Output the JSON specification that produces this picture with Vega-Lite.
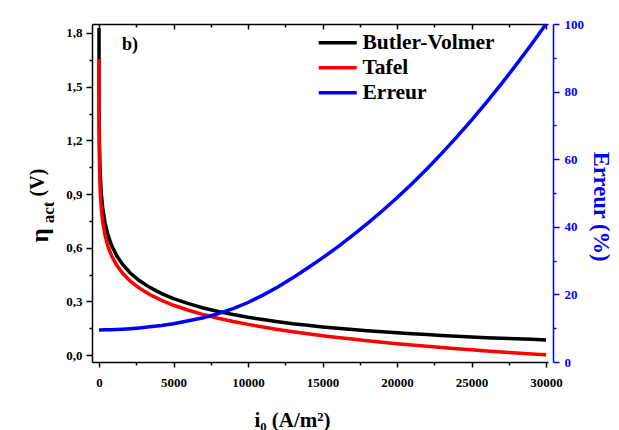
{
  "$schema": "https://vega.github.io/schema/vega-lite/v6.json",
  "width": 456,
  "height": 338,
  "autosize": {"type": "none"},
  "padding": {"left": 92, "top": 24, "right": 71, "bottom": 68},
  "background": "white",
  "datasets": {
    "curves": [
      {"i": 0.7, "s": "Butler-Volmer", "v": 1.828}, {"i": 5, "s": "Butler-Volmer", "v": 1.492}, {"i": 15, "s": "Butler-Volmer", "v": 1.304}, {"i": 30, "s": "Butler-Volmer", "v": 1.185}, {"i": 60, "s": "Butler-Volmer", "v": 1.066}, {"i": 100, "s": "Butler-Volmer", "v": 0.979}, {"i": 160, "s": "Butler-Volmer", "v": 0.898}, {"i": 250, "s": "Butler-Volmer", "v": 0.822}, {"i": 400, "s": "Butler-Volmer", "v": 0.741}, {"i": 600, "s": "Butler-Volmer", "v": 0.672}, {"i": 850, "s": "Butler-Volmer", "v": 0.612}, {"i": 1200, "s": "Butler-Volmer", "v": 0.554}, {"i": 1600, "s": "Butler-Volmer", "v": 0.505}, {"i": 2100, "s": "Butler-Volmer", "v": 0.459}, {"i": 2700, "s": "Butler-Volmer", "v": 0.417}, {"i": 3400, "s": "Butler-Volmer", "v": 0.379}, {"i": 4200, "s": "Butler-Volmer", "v": 0.344}, {"i": 5000, "s": "Butler-Volmer", "v": 0.316}, {"i": 6000, "s": "Butler-Volmer", "v": 0.288}, {"i": 7000, "s": "Butler-Volmer", "v": 0.264}, {"i": 8000, "s": "Butler-Volmer", "v": 0.244}, {"i": 9000, "s": "Butler-Volmer", "v": 0.227}, {"i": 10000, "s": "Butler-Volmer", "v": 0.212}, {"i": 11000, "s": "Butler-Volmer", "v": 0.199}, {"i": 12000, "s": "Butler-Volmer", "v": 0.187}, {"i": 13000, "s": "Butler-Volmer", "v": 0.176}, {"i": 14000, "s": "Butler-Volmer", "v": 0.167}, {"i": 15000, "s": "Butler-Volmer", "v": 0.158}, {"i": 16000, "s": "Butler-Volmer", "v": 0.150}, {"i": 17000, "s": "Butler-Volmer", "v": 0.143}, {"i": 18000, "s": "Butler-Volmer", "v": 0.137}, {"i": 19000, "s": "Butler-Volmer", "v": 0.131}, {"i": 20000, "s": "Butler-Volmer", "v": 0.125}, {"i": 21000, "s": "Butler-Volmer", "v": 0.120}, {"i": 22000, "s": "Butler-Volmer", "v": 0.115}, {"i": 23000, "s": "Butler-Volmer", "v": 0.110}, {"i": 24000, "s": "Butler-Volmer", "v": 0.106}, {"i": 25000, "s": "Butler-Volmer", "v": 0.102}, {"i": 26000, "s": "Butler-Volmer", "v": 0.098}, {"i": 27000, "s": "Butler-Volmer", "v": 0.095}, {"i": 28000, "s": "Butler-Volmer", "v": 0.092}, {"i": 29000, "s": "Butler-Volmer", "v": 0.0885}, {"i": 30000, "s": "Butler-Volmer", "v": 0.085},
      {"i": 0.7, "s": "Tafel", "v": 1.655}, {"i": 5, "s": "Tafel", "v": 1.350}, {"i": 15, "s": "Tafel", "v": 1.180}, {"i": 30, "s": "Tafel", "v": 1.072}, {"i": 60, "s": "Tafel", "v": 0.965}, {"i": 100, "s": "Tafel", "v": 0.886}, {"i": 160, "s": "Tafel", "v": 0.813}, {"i": 250, "s": "Tafel", "v": 0.744}, {"i": 400, "s": "Tafel", "v": 0.671}, {"i": 600, "s": "Tafel", "v": 0.608}, {"i": 850, "s": "Tafel", "v": 0.554}, {"i": 1200, "s": "Tafel", "v": 0.501}, {"i": 1600, "s": "Tafel", "v": 0.456}, {"i": 2100, "s": "Tafel", "v": 0.414}, {"i": 2700, "s": "Tafel", "v": 0.375}, {"i": 3400, "s": "Tafel", "v": 0.339}, {"i": 4200, "s": "Tafel", "v": 0.306}, {"i": 5000, "s": "Tafel", "v": 0.279}, {"i": 6000, "s": "Tafel", "v": 0.251}, {"i": 7000, "s": "Tafel", "v": 0.227}, {"i": 8000, "s": "Tafel", "v": 0.206}, {"i": 9000, "s": "Tafel", "v": 0.188}, {"i": 10000, "s": "Tafel", "v": 0.172}, {"i": 11000, "s": "Tafel", "v": 0.157}, {"i": 12000, "s": "Tafel", "v": 0.144}, {"i": 13000, "s": "Tafel", "v": 0.131}, {"i": 14000, "s": "Tafel", "v": 0.120}, {"i": 15000, "s": "Tafel", "v": 0.109}, {"i": 16000, "s": "Tafel", "v": 0.099}, {"i": 17000, "s": "Tafel", "v": 0.090}, {"i": 18000, "s": "Tafel", "v": 0.081}, {"i": 19000, "s": "Tafel", "v": 0.072}, {"i": 20000, "s": "Tafel", "v": 0.064}, {"i": 21000, "s": "Tafel", "v": 0.057}, {"i": 22000, "s": "Tafel", "v": 0.050}, {"i": 23000, "s": "Tafel", "v": 0.043}, {"i": 24000, "s": "Tafel", "v": 0.036}, {"i": 25000, "s": "Tafel", "v": 0.030}, {"i": 26000, "s": "Tafel", "v": 0.024}, {"i": 27000, "s": "Tafel", "v": 0.018}, {"i": 28000, "s": "Tafel", "v": 0.012}, {"i": 29000, "s": "Tafel", "v": 0.007}, {"i": 30000, "s": "Tafel", "v": 0.002},
      {"i": 0.7, "s": "Erreur", "v": 9.5}, {"i": 400, "s": "Erreur", "v": 9.51}, {"i": 850, "s": "Erreur", "v": 9.55}, {"i": 1200, "s": "Erreur", "v": 9.62}, {"i": 1600, "s": "Erreur", "v": 9.72}, {"i": 2100, "s": "Erreur", "v": 9.86}, {"i": 2700, "s": "Erreur", "v": 10.08}, {"i": 3400, "s": "Erreur", "v": 10.4}, {"i": 4200, "s": "Erreur", "v": 10.8}, {"i": 5000, "s": "Erreur", "v": 11.3}, {"i": 6000, "s": "Erreur", "v": 12.2}, {"i": 7000, "s": "Erreur", "v": 13.1}, {"i": 8000, "s": "Erreur", "v": 14.3}, {"i": 9000, "s": "Erreur", "v": 15.8}, {"i": 10000, "s": "Erreur", "v": 17.6}, {"i": 11000, "s": "Erreur", "v": 19.8}, {"i": 12000, "s": "Erreur", "v": 22.2}, {"i": 13000, "s": "Erreur", "v": 24.9}, {"i": 14000, "s": "Erreur", "v": 27.8}, {"i": 15000, "s": "Erreur", "v": 30.8}, {"i": 16000, "s": "Erreur", "v": 34.0}, {"i": 17000, "s": "Erreur", "v": 37.4}, {"i": 18000, "s": "Erreur", "v": 40.94}, {"i": 19000, "s": "Erreur", "v": 44.66}, {"i": 20000, "s": "Erreur", "v": 48.6}, {"i": 21000, "s": "Erreur", "v": 52.75}, {"i": 22000, "s": "Erreur", "v": 57.12}, {"i": 23000, "s": "Erreur", "v": 61.72}, {"i": 24000, "s": "Erreur", "v": 66.52}, {"i": 25000, "s": "Erreur", "v": 71.55}, {"i": 26000, "s": "Erreur", "v": 76.8}, {"i": 27000, "s": "Erreur", "v": 82.26}, {"i": 28000, "s": "Erreur", "v": 87.96}, {"i": 29000, "s": "Erreur", "v": 93.86}, {"i": 30000, "s": "Erreur", "v": 100}
    ]
  },
  "data": {"name": "curves"},
  "config": {
    "view": {"stroke": null},
    "font": "Liberation Serif",
    "axis": {
      "labelFont": "Liberation Serif", "labelFontWeight": "bold", "labelFontSize": 13, "labelColor": "black",
      "titleFont": "Liberation Serif", "titleFontWeight": "bold", "titleColor": "black",
      "domainColor": "black", "tickColor": "black", "domainWidth": 1.5, "tickWidth": 1.5,
      "grid": false, "labelOverlap": false
    },
    "legend": {
      "labelFont": "Liberation Serif", "labelFontWeight": "bold", "labelFontSize": 21.5, "labelColor": "black"
    }
  },
  "resolve": {"scale": {"y": "independent"}, "axis": {"x": "independent"}},
  "layer": [
    {
      "transform": [{"filter": "datum.s !== 'Erreur'"}],
      "mark": {"type": "line", "strokeWidth": 3.5, "clip": true},
      "encoding": {
        "x": {
          "field": "i", "type": "quantitative",
          "scale": {"domain": [-470, 30130], "nice": false, "zero": false},
          "axis": {
            "orient": "bottom",
            "values": [0, 2500, 5000, 7500, 10000, 12500, 15000, 17500, 20000, 22500, 25000, 27500, 30000],
            "format": "d",
            "labelExpr": "datum.value % 5000 === 0 ? datum.label : ''",
            "labelFontSize": 13,
            "tickSize": {"condition": {"test": "datum.value % 5000 !== 0", "value": 3}, "value": 5},
            "labelPadding": 9,
            "title": "i₀ (A/m²)", "titleFontSize": 21,
            "titleX": 200, "titleY": 64, "titleAlign": "center", "titleBaseline": "alphabetic"
          }
        },
        "y": {
          "field": "v", "type": "quantitative",
          "scale": {"domain": [-0.038, 1.85], "nice": false, "zero": false},
          "axis": {
            "orient": "left",
            "values": [0, 0.15, 0.3, 0.45, 0.6, 0.75, 0.9, 1.05, 1.2, 1.35, 1.5, 1.65, 1.8],
            "labelExpr": "round(datum.value*100) % 30 === 0 ? replace(format(datum.value, '.1f'), '.', ',') : ''",
            "labelFontSize": 13,
            "tickSize": {"condition": {"test": "round(datum.value*100) % 30 !== 0", "value": 3}, "value": 6},
            "labelPadding": 4,
            "title": "η", "titleFontSize": 25, "titleAngle": 270,
            "titleX": -53, "titleY": 211, "titleAlign": "center", "titleBaseline": "middle"
          }
        },
        "color": {
          "field": "s", "type": "nominal",
          "scale": {"domain": ["Butler-Volmer", "Tafel", "Erreur"], "range": ["#000000", "#FF0000", "#0000FF"]},
          "legend": {
            "orient": "none", "legendX": 235, "legendY": 8, "title": null,
            "symbolType": "M-4.75,0H4.75", "symbolSize": 64, "symbolStrokeWidth": 3.5,
            "labelOffset": 14, "rowPadding": 2, "padding": 0
          }
        }
      }
    },
    {
      "transform": [{"filter": "datum.s === 'Erreur'"}],
      "mark": {"type": "line", "strokeWidth": 3.5, "clip": true},
      "encoding": {
        "x": {"field": "i", "type": "quantitative", "scale": {"domain": [-470, 30130], "nice": false, "zero": false}, "axis": null},
        "y": {
          "field": "v", "type": "quantitative",
          "scale": {"domain": [0, 100], "nice": false},
          "axis": {
            "orient": "right", "offset": 5,
            "values": [0, 10, 20, 30, 40, 50, 60, 70, 80, 90, 100],
            "format": "d",
            "labelExpr": "datum.value % 20 === 0 ? datum.label : ''",
            "labelFontSize": 13,
            "tickSize": {"condition": {"test": "datum.value % 20 !== 0", "value": 3}, "value": 6},
            "labelPadding": 5,
            "domainColor": "#0000FF", "tickColor": "#0000FF", "labelColor": "#0000FF",
            "title": "Erreur (%)", "titleColor": "#0000FF", "titleFontSize": 22.5, "titleAngle": 90,
            "titleX": 47, "titleY": 182, "titleAlign": "center", "titleBaseline": "middle"
          }
        },
        "color": {"field": "s", "type": "nominal"}
      }
    },
    {
      "data": {"values": [{"i": 0, "v": 0}]},
      "mark": {"type": "point", "opacity": 0},
      "encoding": {
        "x": {
          "field": "i", "type": "quantitative",
          "scale": {"domain": [-470, 30130], "nice": false, "zero": false},
          "axis": {
            "orient": "top",
            "values": [0, 2500, 5000, 7500, 10000, 12500, 15000, 17500, 20000, 22500, 25000, 27500, 30000],
            "labels": false,
            "tickSize": {"condition": {"test": "datum.value % 5000 !== 0", "value": -3}, "value": -5},
            "title": null
          }
        },
        "y": {
          "field": "v", "type": "quantitative",
          "scale": {"domain": [-0.038, 1.85], "nice": false, "zero": false},
          "axis": {
            "orient": "left", "domain": false, "ticks": false, "labels": false,
            "title": "act", "titleFontSize": 17, "titleAngle": 270,
            "titleX": -44, "titleY": 188, "titleAlign": "center", "titleBaseline": "middle"
          }
        }
      }
    },
    {
      "data": {"values": [{}]},
      "mark": {"type": "text", "text": "b)", "align": "left", "baseline": "alphabetic", "fontSize": 18, "fontWeight": "bold", "font": "Liberation Serif"},
      "encoding": {
        "x": {"datum": 1544, "type": "quantitative", "scale": {"domain": [-470, 30130], "nice": false, "zero": false}, "axis": null},
        "y": {
          "datum": 1.704, "type": "quantitative",
          "scale": {"domain": [-0.038, 1.85], "nice": false, "zero": false},
          "axis": {
            "orient": "left", "domain": false, "ticks": false, "labels": false,
            "title": "(V)", "titleFontSize": 20, "titleAngle": 270,
            "titleX": -55, "titleY": 158, "titleAlign": "center", "titleBaseline": "middle"
          }
        }
      }
    }
  ]
}
